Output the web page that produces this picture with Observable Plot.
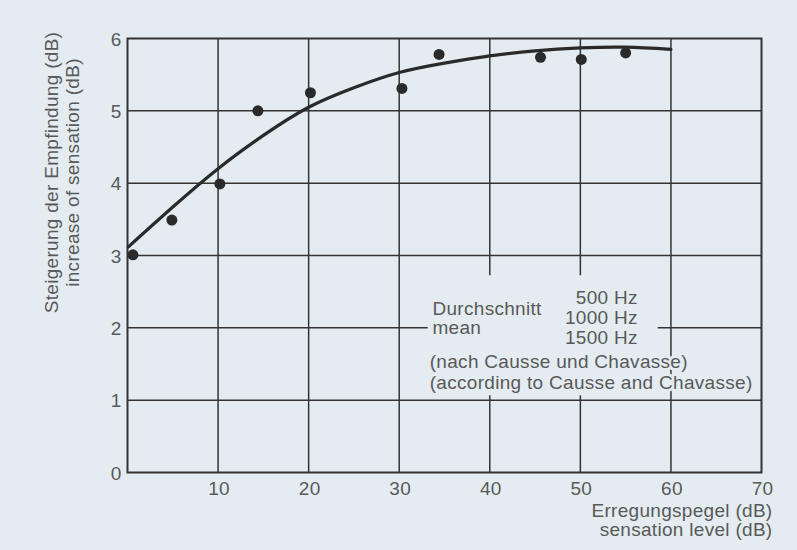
<!DOCTYPE html>
<html>
<head>
<meta charset="utf-8">
<script src="https://cdn.jsdelivr.net/npm/d3@7"></script>
<script src="https://cdn.jsdelivr.net/npm/@observablehq/plot@0.6"></script>
<style>
  html, body { margin: 0; padding: 0; background: #e4ecf1; }
  #chart svg { display: block; letter-spacing: 0.3px; }
</style>
</head>
<body>
<div id="chart"></div>
<script>
// Axis ticks
const xTicks = [10, 20, 30, 40, 50, 60, 70];
const yTicks = [0, 1, 2, 3, 4, 5, 6];
const xGrid = [10, 20, 30, 40, 50, 60];
const yGrid = [1, 2, 3, 4, 5];

// Measured points (sensation level dB, increase of sensation dB)
const pointX = [0.6, 4.9, 10.2, 14.4, 20.2, 30.3, 34.4, 45.6, 50.1, 55.0];
const pointY = [3.01, 3.49, 3.99, 5.0, 5.25, 5.31, 5.78, 5.74, 5.71, 5.80];

// Mean curve
const curveX = [0.1, 5, 10, 15, 20, 25, 30, 35, 40, 45, 50, 55, 60];
const curveY = [3.12, 3.67, 4.2, 4.66, 5.05, 5.32, 5.53, 5.66, 5.76, 5.83, 5.87, 5.88, 5.85];

// Labels
const yLabel = "Steigerung der Empfindung (dB)\nincrease of sensation (dB)";
const xLabel = "Erregungspegel (dB)\nsensation level (dB)";
const meanLabel = "Durchschnitt\nmean";
const freqLabel = "500 Hz\n1000 Hz\n1500 Hz";
const sourceLabel = "(nach Causse und Chavasse)\n(according to Causse and Chavasse)";

const points = pointX.map((x, i) => ({x, y: pointY[i]}));
const curve = curveX.map((x, i) => ({x, y: curveY[i]}));

const bg = "#e4ecf1";
const ink = "#333";
const textInk = "#595959";
const fs = 19;

const chart = Plot.plot({
  width: 797,
  height: 550,
  marginLeft: 127,
  marginRight: 36,
  marginTop: 38,
  marginBottom: 78,
  style: {background: "transparent", fontFamily: "'Liberation Sans', Arial, sans-serif", fontSize: fs + "px", color: textInk},
  x: {domain: [0, 70]},
  y: {domain: [0, 6]},
  marks: [
    Plot.gridX(xGrid, {stroke: ink, strokeOpacity: 1, strokeWidth: 1.5}),
    Plot.gridY(yGrid, {stroke: ink, strokeOpacity: 1, strokeWidth: 1.5}),
    Plot.frame({stroke: ink, strokeWidth: 2}),
    // annotation box clearing the grid
    Plot.rect([{x1: 33.2, x2: 58.6, y1: 1.06, y2: 2.72}], {x1: "x1", x2: "x2", y1: "y1", y2: "y2", fill: bg}),
    Plot.line(curve, {x: "x", y: "y", curve: "natural", stroke: "#2a2a2a", strokeWidth: 3.2}),
    Plot.dot(points, {x: "x", y: "y", r: 5.5, fill: "#2a2a2a", stroke: "none"}),
    Plot.axisX(xTicks, {tickSize: 0, tickPadding: 9, dx: 1, fontSize: fs, fill: textInk, label: null, tickFormat: d => String(d)}),
    Plot.axisY(yTicks, {tickSize: 0, tickPadding: 6, dy: 1, fontSize: fs, fill: textInk, label: null, tickFormat: d => String(d)}),
    Plot.text([meanLabel], {x: () => 33.67, y: () => 1.908, textAnchor: "start", lineAnchor: "bottom", lineHeight: 1.0, fontSize: fs, fill: textInk, stroke: bg, strokeWidth: 6}),
    Plot.text([freqLabel], {x: () => 56.35, y: () => 1.783, textAnchor: "end", lineAnchor: "bottom", lineHeight: 1.05, fontSize: fs, fill: textInk, stroke: bg, strokeWidth: 6}),
    Plot.text([sourceLabel], {x: () => 33.37, y: () => 1.161, textAnchor: "start", lineAnchor: "bottom", lineHeight: 1.1, fontSize: fs, fill: textInk, stroke: bg, strokeWidth: 6}),
    Plot.text([xLabel], {frameAnchor: "bottom-right", dx: 11, dy: 63, textAnchor: "end", lineAnchor: "bottom", lineHeight: 1.0, fontSize: fs, fill: textInk}),
    Plot.text([yLabel], {frameAnchor: "top-left", dx: -66, dy: 134, rotate: -90, textAnchor: "middle", lineAnchor: "middle", lineHeight: 1.15, fontSize: fs, fill: textInk})
  ]
});
document.getElementById("chart").appendChild(chart);
</script>
</body>
</html>
